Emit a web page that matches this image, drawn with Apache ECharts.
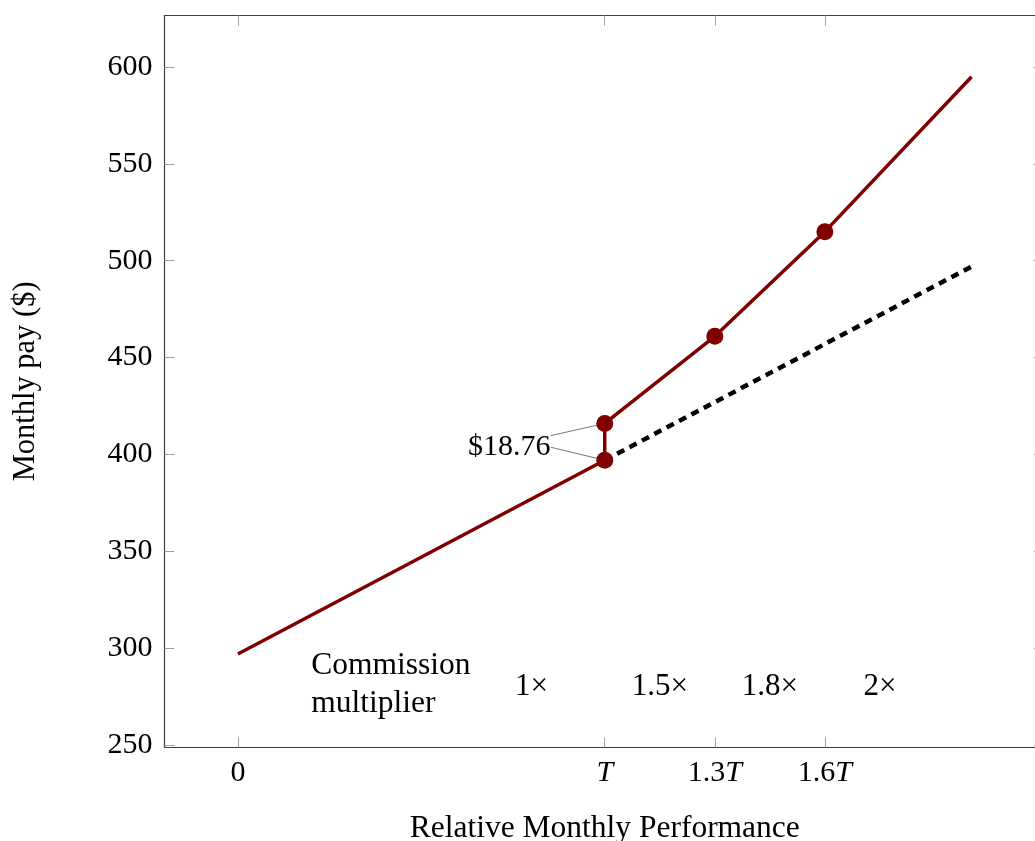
<!DOCTYPE html>
<html>
<head>
<meta charset="utf-8">
<script src="https://cdn.jsdelivr.net/npm/echarts@6/dist/echarts.min.js"></script>
<style>
  html, body { margin: 0; padding: 0; background: #fff; overflow: hidden; }
  #chart { width: 1035px; height: 841px; }
</style>
</head>
<body>
<div id="chart"></div>
<script>
// ---- data ----
const xTicks = [0, 1, 1.3, 1.6];
const xTickLabels = ['0', 'T', '1.3T', '1.6T'];
const yTicks = [250, 300, 350, 400, 450, 500, 550, 600];
const payPoints = [[0, 297], [1, 397], [1, 416], [1.3, 461], [1.6, 515], [2, 595]];
const markerPoints = [[1, 397], [1, 416], [1.3, 461], [1.6, 515]];
const baselinePay = [[1, 397], [2, 497]];
const multiplierLabels = ['1×', '1.5×', '1.8×', '2×'];
const multiplierX = [0.8, 1.15, 1.45, 1.75];
const multiplierY = 280;
const multiplierTitle = 'Commission\nmultiplier';
const multiplierTitlePos = [0.2, 281];
const gapLabel = '$18.76';
const gapLabelPos = [0.852, 404];
const gapLeaderStart = [[0.853, 409.7], [0.853, 403.7]];
const gapLeaderEnd = [[1, 416], [1, 397]];

const FONT = '"Liberation Serif", "DejaVu Serif", serif';
const RED = '#800000';

const tickLabelFormatter = function (v) {
  const i = xTicks.findIndex(t => Math.abs(t - v) < 1e-9);
  const s = i >= 0 ? xTickLabels[i] : String(v);
  if (s.endsWith('T')) {
    const pre = s.slice(0, -1);
    return (pre ? '{n|' + pre + '}' : '') + '{i|T}';
  }
  return '{n|' + s + '}';
};

const axisLineStyle = { color: '#404040', width: 1.2 };
const tickStyle = { color: '#a0a0a0', width: 1 };
const textLabel = { fontFamily: FONT, fontSize: 30, color: '#000' };

const chart = echarts.init(document.getElementById('chart'), null, { renderer: 'canvas' });

const option = {
  animation: false,
  backgroundColor: '#ffffff',
  grid: {
    left: 164.5, top: 15.5, width: 880.5, height: 731.8,
    containLabel: false, outerBoundsMode: 'none'
  },
  xAxis: [
    {
      type: 'value', position: 'bottom', min: -0.2, max: 2.2,
      name: 'Relative Monthly Performance', nameLocation: 'middle', nameGap: 65,
      nameTextStyle: { fontFamily: FONT, fontSize: 31.5, color: '#000' },
      axisLine: { show: true, onZero: false, lineStyle: axisLineStyle },
      axisTick: { show: true, inside: true, length: 10, customValues: xTicks, lineStyle: tickStyle },
      axisLabel: {
        show: true, customValues: xTicks, margin: 11, formatter: tickLabelFormatter,
        rich: {
          n: { fontFamily: FONT, fontSize: 30, color: '#000' },
          i: { fontFamily: FONT, fontSize: 30, fontStyle: 'italic', color: '#000' }
        }
      },
      splitLine: { show: false }
    },
    {
      type: 'value', position: 'top', min: -0.2, max: 2.2,
      axisLine: { show: true, onZero: false, lineStyle: axisLineStyle },
      axisTick: { show: true, inside: true, length: 10, customValues: xTicks, lineStyle: tickStyle },
      axisLabel: { show: false },
      splitLine: { show: false }
    }
  ],
  yAxis: [
    {
      type: 'value', position: 'left', min: 248.8, max: 626.6,
      name: 'Monthly pay ($)', nameLocation: 'middle', nameGap: 123, nameRotate: 90,
      nameTextStyle: { fontFamily: FONT, fontSize: 30.5, color: '#000' },
      axisLine: { show: true, onZero: false, lineStyle: axisLineStyle },
      axisTick: { show: true, inside: true, length: 10, customValues: yTicks, lineStyle: tickStyle },
      axisLabel: {
        show: true, customValues: yTicks, margin: 12, padding: [5, 0, 0, 0],
        fontFamily: FONT, fontSize: 30, color: '#000'
      },
      splitLine: { show: false }
    },
    {
      type: 'value', position: 'right', min: 248.8, max: 626.6,
      axisLine: { show: true, onZero: false, lineStyle: axisLineStyle },
      axisTick: { show: true, inside: true, length: 11, customValues: yTicks, lineStyle: tickStyle },
      axisLabel: { show: false },
      splitLine: { show: false }
    }
  ],
  series: [
    {
      name: 'baseline', type: 'line', data: baselinePay, z: 2,
      showSymbol: false, symbol: 'none',
      lineStyle: { color: '#000', width: 4.5, type: [8, 6], cap: 'butt' }
    },
    {
      name: 'pay', type: 'line', data: payPoints, z: 3,
      showSymbol: false, symbol: 'none',
      lineStyle: { color: RED, width: 3.5 }
    },
    {
      name: 'leader1', type: 'line', data: [gapLeaderStart[0], gapLeaderEnd[0]], z: 3,
      symbol: 'none', lineStyle: { color: '#777', width: 1 }
    },
    {
      name: 'leader2', type: 'line', data: [gapLeaderStart[1], gapLeaderEnd[1]], z: 3,
      symbol: 'none', lineStyle: { color: '#777', width: 1 }
    },
    {
      name: 'markers', type: 'scatter', data: markerPoints, z: 5,
      symbol: 'circle', symbolSize: 17, itemStyle: { color: RED, opacity: 1 }
    },
    {
      name: 'gapLabel', type: 'scatter', data: [gapLabelPos], z: 6,
      symbolSize: 0, silent: true, itemStyle: { opacity: 1 },
      label: Object.assign({
        show: true, position: 'inside', formatter: gapLabel,
        align: 'right', verticalAlign: 'middle'
      }, textLabel)
    },
    {
      name: 'multTitle', type: 'scatter', data: [multiplierTitlePos], z: 6,
      symbolSize: 0, silent: true, itemStyle: { opacity: 1 },
      label: Object.assign({
        show: true, position: 'inside', formatter: multiplierTitle,
        align: 'left', verticalAlign: 'middle', lineHeight: 38.5
      }, textLabel, { fontSize: 31.5 })
    },
    {
      name: 'multipliers', type: 'scatter',
      data: multiplierX.map((x, i) => ({ value: [x, multiplierY], label: { formatter: multiplierLabels[i] } })),
      z: 6, symbolSize: 0, silent: true, itemStyle: { opacity: 1 },
      label: Object.assign({
        show: true, position: 'inside',
        align: 'center', verticalAlign: 'middle'
      }, textLabel, { fontSize: 31 })
    }
  ]
};

chart.setOption(option);
</script>
</body>
</html>
